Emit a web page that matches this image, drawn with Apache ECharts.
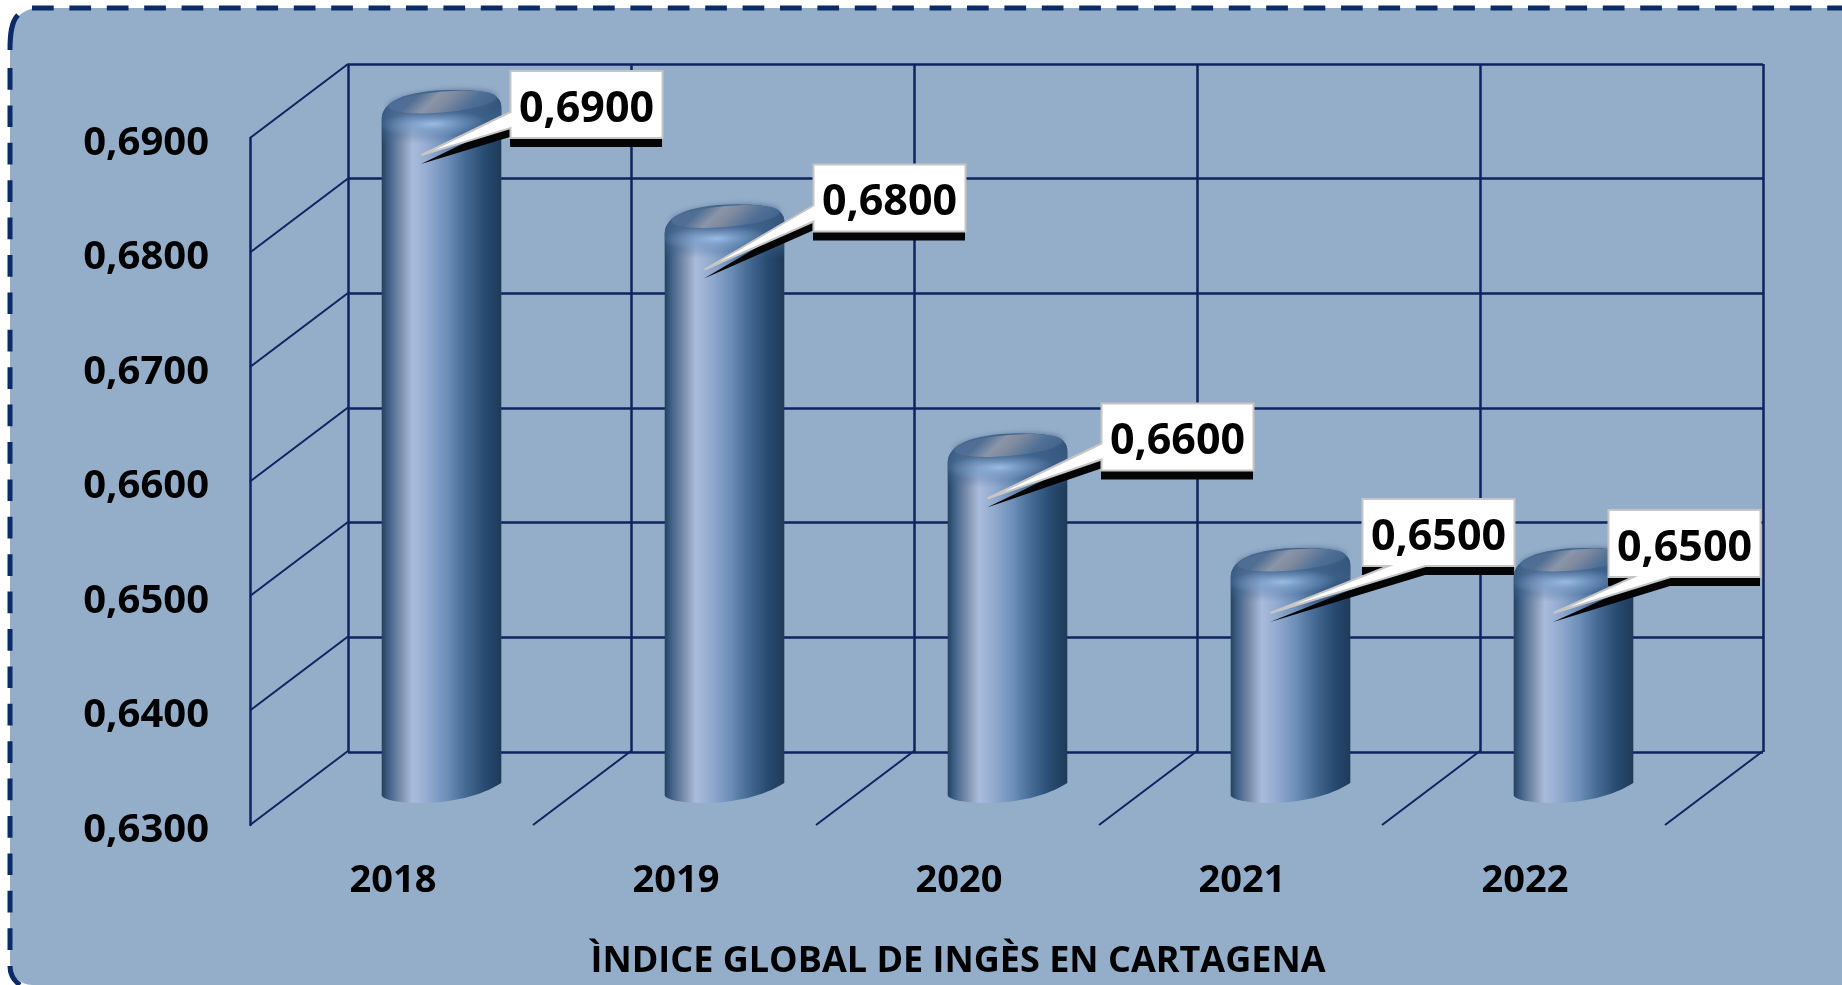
<!DOCTYPE html>
<html>
<head>
<meta charset="utf-8">
<style>html,body{margin:0;padding:0;background:#fff;overflow:hidden}#c{width:1842px;height:985px}</style>
<script src="https://cdn.jsdelivr.net/npm/echarts@6/dist/echarts.min.js"></script>
</head>
<body>
<div id="c"></div>
<script>
const categories = ['2018', '2019', '2020', '2021', '2022'];
const values = [0.69, 0.68, 0.66, 0.65, 0.65];
const yTicks = [0.63, 0.64, 0.65, 0.66, 0.67, 0.68, 0.69];
const yMin = 0.63, yMax = 0.69, yStep = 0.01;
const titleText = 'ÌNDICE GLOBAL DE INGÈS EN CARTAGENA';

// Layout only (not data)
const calloutLayout = [
  {dx: 89, dy: -84, edge: 'left', a: 41, b: 57},
  {dx: 109, dy: -105, edge: 'left', a: 41, b: 57},
  {dx: 114, dy: -95, edge: 'left', a: 40, b: 56},
  {dx: 92, dy: -114, edge: 'bottom', a: 26, b: 63},
  {dx: 55, dy: -103, edge: 'bottom', a: 25, b: 62}
];
const FONT = '"Open Sans", "Noto Sans", sans-serif';
const NAVY = '#10235F';
const DEPTH = [98, -74];
const fmt = v => v.toFixed(4).replace('.', ',');

function renderWall(params, api) {
  const p = api.coord([0, api.value(1)]);
  const hb = api.size([1, 0])[0] / 2;
  const x = p[0] - hb;
  return {type: 'line', silent: true, shape: {x1: x, y1: p[1], x2: x + DEPTH[0], y2: p[1] + DEPTH[1]},
    style: {stroke: NAVY, lineWidth: 2, fill: null}};
}
function renderFloor(params, api) {
  const p = api.coord([api.value(0), yMin]);
  const hb = api.size([1, 0])[0] / 2;
  const x = p[0] + hb;
  return {type: 'line', silent: true, shape: {x1: x, y1: p[1], x2: x + DEPTH[0], y2: p[1] + DEPTH[1]},
    style: {stroke: NAVY, lineWidth: 2, fill: null}};
}
function tiltedEllipse(cx, cy, rx, ry, k) {
  const pts = [];
  for (let n = 0; n < 72; n++) {
    const t = n / 72 * Math.PI * 2;
    pts.push([cx + rx * Math.cos(t), cy + ry * Math.sin(t) - k * Math.cos(t)]);
  }
  return pts;
}
function renderCylinder(params, api) {
  const i = api.value(0), v = api.value(1);
  const p = api.coord([i, v]);
  const base = api.coord([i, yMin]);
  const T = p[1], B = base[1];
  const cx = p[0] + 50, rx = 59.8, L = cx - rx, R = cx + rx;
  const topPath = `M${L} ${T - 19}C${L} ${T - 36} ${cx - 36} ${T - 48} ${cx + 10} ${T - 48}C${cx + 42} ${T - 48} ${R} ${T - 45} ${R} ${T - 31}`;
  const bodyPath = topPath + `L${R} ${B - 42}C${R - 20} ${B - 29} ${cx + 9} ${B - 22} ${cx - 21} ${B - 22}C${cx - 41} ${B - 22} ${L} ${B - 25} ${L} ${B - 30}Z`;
  const domePath = topPath + `L${R} ${T + 6}L${L} ${T + 6}Z`;
  const capC = [cx - 5, T - 36], n = [0.68, 0.73], s = 62;
  const capFill = {
    type: 'linear', global: true,
    x: capC[0] - n[0] * s, y: capC[1] - n[1] * s, x2: capC[0] + n[0] * s, y2: capC[1] + n[1] * s,
    colorStops: [
      {offset: 0, color: '#446890'}, {offset: 0.36, color: '#516F95'}, {offset: 0.47, color: '#8A95A9'},
      {offset: 0.55, color: '#808BA0'}, {offset: 0.7, color: '#4F6F96'}, {offset: 1, color: '#2E5279'}
    ]};
  const children = [
    {type: 'path', z2: 1, shape: {pathData: bodyPath}, style: {fill: {
      type: 'linear', x: 0, y: 0, x2: 1, y2: 0,
      colorStops: [
        {offset: 0, color: '#23425F'}, {offset: 0.06, color: '#42628A'}, {offset: 0.17, color: '#8093B1'},
        {offset: 0.26, color: '#A9BCDC'}, {offset: 0.38, color: '#94ABD0'}, {offset: 0.55, color: '#6C8EB9'},
        {offset: 0.7, color: '#456A94'}, {offset: 0.86, color: '#284B72'}, {offset: 1, color: '#1E3A58'}
      ]}}},
    {type: 'path', z2: 2, shape: {pathData: domePath}, style: {fill: {
      type: 'linear', x: 0, y: 0, x2: 0, y2: 1,
      colorStops: [
        {offset: 0, color: 'rgba(50,84,122,0.8)'}, {offset: 0.55, color: 'rgba(68,104,146,0.72)'},
        {offset: 1, color: 'rgba(68,104,146,0)'}
      ]}}},
    {type: 'circle', z2: 3, x: cx - 8, y: T - 14, scaleX: 1, scaleY: 0.24, rotation: 0.03,
      shape: {cx: 0, cy: 0, r: 54},
      style: {fill: {type: 'radial', x: 0.5, y: 0.5, r: 0.5, colorStops: [
        {offset: 0, color: 'rgba(165,198,238,0.85)'}, {offset: 0.5, color: 'rgba(145,182,226,0.42)'},
        {offset: 1, color: 'rgba(145,182,226,0)'}
      ]}}},
    {type: 'polygon', z2: 4, shape: {points: tiltedEllipse(cx + 1, T - 36, 54, 10.5, 4.5)},
      style: {fill: capFill, shadowBlur: 6, shadowColor: 'rgba(66,98,140,0.9)'}}
  ];
  return {type: 'group', children};
}
function renderCallout(params, api) {
  const i = api.value(0), v = api.value(1);
  const p = api.coord([i, v]);
  const tip = [p[0] + 30, p[1] + 17];
  const c = calloutLayout[params.dataIndex];
  const w = 152, h = 67;
  const bx = tip[0] + c.dx, by = tip[1] + c.dy, r = bx + w, bot = by + h;
  const pts = c.edge === 'left'
    ? [[bx, by], [r, by], [r, bot], [bx, bot], [bx, by + c.b], tip, [bx, by + c.a]]
    : [[bx, by], [r, by], [r, bot], [bx + c.b, bot], tip, [bx + c.a, bot], [bx, bot]];
  const shadow = pts.map(q => [q[0] - 0.5, q[1] + 9]);
  return {type: 'group', children: [
    {type: 'polygon', z2: 10, shape: {points: shadow}, style: {fill: '#050505'}},
    {type: 'polygon', z2: 11, shape: {points: pts}, style: {fill: '#fff', stroke: '#C6C6C6', lineWidth: 2, lineJoin: 'miter'}},
    {type: 'text', z2: 12, style: {text: fmt(v), x: bx + w / 2, y: by + h / 2 + 5, align: 'center', verticalAlign: 'middle',
      fontFamily: FONT, fontWeight: 'bold', fontSize: 43, fill: '#000'}}
  ]};
}

const dash = {stroke: '#0A2A68', lineWidth: 5, lineDash: [21.7, 15.7], fill: null};
const chart = echarts.init(document.getElementById('c'), null, {renderer: 'canvas', width: 1842, height: 985});
chart.setOption({
  animation: false,
  backgroundColor: '#fff',
  title: {text: titleText, left: 953, top: 939, textAlign: 'center',
    textStyle: {fontFamily: FONT, fontWeight: 'bold', fontSize: 36, color: '#000'}},
  graphic: {elements: [
    {type: 'rect', silent: true, z: -100, shape: {x: 10, y: 8, width: 1840, height: 977, r: [28, 0, 0, 22]}, style: {fill: '#94ADC9'}},
    {type: 'line', silent: true, z: -99, shape: {x1: 32, y1: 8, x2: 1850, y2: 8}, style: dash},
    {type: 'bezierCurve', silent: true, z: -99, shape: {x1: 10, y1: 50, cpx1: 10, cpy1: 35, cpx2: 11, cpy2: 22, x2: 18, y2: 15},
      style: {stroke: '#0A2A68', lineWidth: 5, fill: null}},
    {type: 'line', silent: true, z: -99, shape: {x1: 10, y1: 68, x2: 10, y2: 963}, style: dash},
    {type: 'bezierCurve', silent: true, z: -99, shape: {x1: 10, y1: 966, cpx1: 10, cpy1: 974, cpx2: 13, cpy2: 980, x2: 20, y2: 985},
      style: {stroke: '#0A2A68', lineWidth: 5, fill: null}}
  ]},
  grid: [
    {left: 348, top: 64, width: 1415, height: 688},
    {left: 250, top: 138, width: 1415, height: 687}
  ],
  xAxis: [
    {type: 'category', gridIndex: 0, data: categories, boundaryGap: true,
      axisLine: {show: false}, axisTick: {show: false}, axisLabel: {show: false},
      splitLine: {show: true, interval: 0, lineStyle: {color: NAVY, width: 2.5}}},
    {type: 'category', gridIndex: 1, data: categories, boundaryGap: true,
      axisLine: {show: false}, axisTick: {show: false}, splitLine: {show: false},
      axisLabel: {margin: 37, padding: [0, 0, 0, 3], fontFamily: FONT, fontWeight: 'bold', fontSize: 38, color: '#000', interval: 0}}
  ],
  yAxis: [
    {type: 'value', gridIndex: 0, min: yMin, max: yMax, interval: yStep,
      axisLine: {show: false}, axisTick: {show: false}, axisLabel: {show: false},
      splitLine: {show: true, lineStyle: {color: NAVY, width: 2.5}}},
    {type: 'value', gridIndex: 1, min: yMin, max: yMax, interval: yStep,
      axisLine: {show: true, lineStyle: {color: NAVY, width: 2.5}}, axisTick: {show: false}, splitLine: {show: false},
      axisLabel: {margin: 41, formatter: v => '{a|' + fmt(v) + '}', color: '#000',
        rich: {a: {padding: [11, 0, 0, 0], fontFamily: FONT, fontWeight: 'bold', fontSize: 40, color: '#000'}}}}
  ],
  series: [
    {type: 'custom', name: 'wall', xAxisIndex: 1, yAxisIndex: 1, clip: false, silent: true, z: 3,
      data: yTicks.map(v => [0, v]), encode: {x: 0, y: 1}, renderItem: renderWall},
    {type: 'custom', name: 'floor', xAxisIndex: 1, yAxisIndex: 1, clip: false, silent: true, z: 3,
      data: categories.map((c, i) => [i, yMin]), encode: {x: 0, y: 1}, renderItem: renderFloor},
    {type: 'custom', name: 'cylinders', xAxisIndex: 1, yAxisIndex: 1, clip: false, silent: true, z: 4,
      data: values.map((v, i) => [i, v]), encode: {x: 0, y: 1}, renderItem: renderCylinder},
    {type: 'custom', name: 'callouts', xAxisIndex: 1, yAxisIndex: 1, clip: false, silent: true, z: 5,
      data: values.map((v, i) => [i, v]), encode: {x: 0, y: 1}, renderItem: renderCallout}
  ]
});
</script>
</body>
</html>
